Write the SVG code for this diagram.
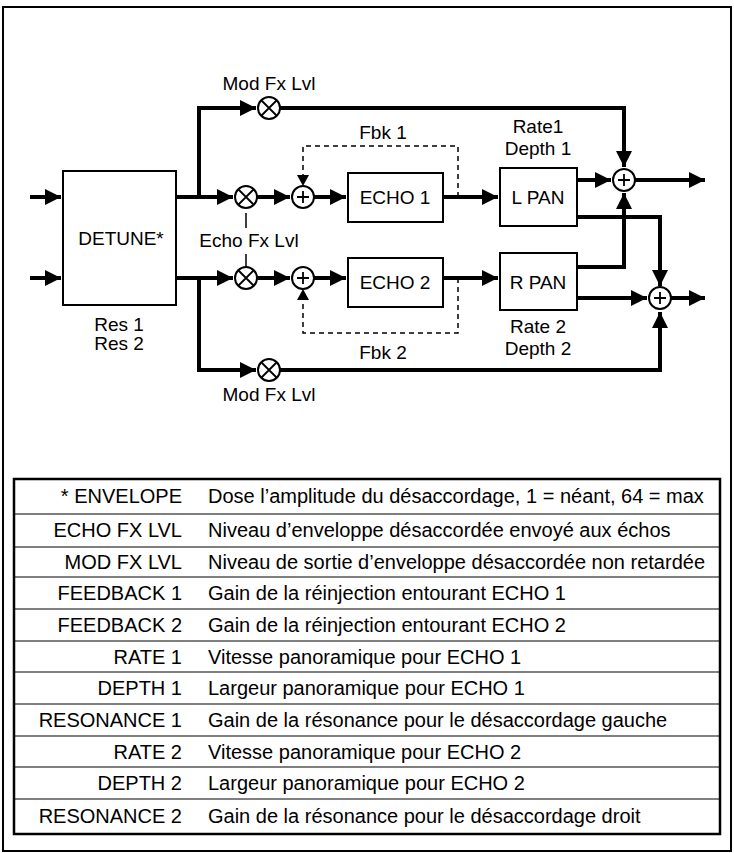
<svg xmlns="http://www.w3.org/2000/svg" width="734" height="853" viewBox="0 0 734 853">
<style>
text{font-family:"Liberation Sans",Arial,sans-serif;font-size:19px;fill:#000}
#table text{font-size:20px}
.c{text-anchor:middle}.r{text-anchor:end}
.w{fill:none;stroke:#000;stroke-width:4}
.b{fill:#fff;stroke:#000;stroke-width:2}
.d{fill:none;stroke:#000;stroke-width:1.5;stroke-dasharray:5,4}
.t{stroke:#000;stroke-width:1.5}
.o{fill:#fff;stroke:#000;stroke-width:2}
.x{stroke:#000;stroke-width:1.8}
</style>
<defs>
<marker id="a" markerWidth="4" markerHeight="4" refX="4" refY="2" orient="auto" markerUnits="strokeWidth"><path d="M0,0L4,2L0,4z" fill="#000"/></marker>
</defs>
<rect x="3" y="7" width="728" height="844" fill="#fff" stroke="#000" stroke-width="2"/>
<g id="connectors">
<path class="w" d="M30,197H61" marker-end="url(#a)"/>
<path class="w" d="M30,278H61" marker-end="url(#a)"/>
<path class="w" d="M176,197H233" marker-end="url(#a)"/>
<path class="w" d="M176,278H233" marker-end="url(#a)"/>
<path class="w" d="M199,197V108H256" marker-end="url(#a)"/>
<path class="w" d="M199,278V370H256" marker-end="url(#a)"/>
<path class="w" d="M257,197H290" marker-end="url(#a)"/>
<path class="w" d="M257,278H290" marker-end="url(#a)"/>
<path class="w" d="M314,197H346" marker-end="url(#a)"/>
<path class="w" d="M314,278H346" marker-end="url(#a)"/>
<path class="w" d="M443,197H498" marker-end="url(#a)"/>
<path class="w" d="M443,278H498" marker-end="url(#a)"/>
<path class="d" d="M458,197V146H303V180"/>
<path d="M303,186l-6,-11h12z" fill="#000"/>
<path class="d" d="M458,278V333H303V299"/>
<path d="M303,289l-6,11h12z" fill="#000"/>
<path class="w" d="M280,108H624V167" marker-end="url(#a)"/>
<path class="w" d="M577,180H611" marker-end="url(#a)"/>
<path class="w" d="M577,267H624V193" marker-end="url(#a)"/>
<path class="w" d="M577,217H660V286" marker-end="url(#a)"/>
<path class="w" d="M577,298H647" marker-end="url(#a)"/>
<path class="w" d="M280,370H660V312" marker-end="url(#a)"/>
<path class="w" d="M635,180H705" marker-end="url(#a)"/>
<path class="w" d="M671,298H705" marker-end="url(#a)"/>
<path class="t" d="M246,213V228M246,254V268"/>
</g>
<g id="detune"><rect class="b" x="63" y="171" width="113" height="134"/><text class="c" x="121" y="245">DETUNE*</text><text class="c" x="119" y="331">Res 1</text><text class="c" x="119" y="350">Res 2</text></g>
<g id="mult1"><circle class="o" cx="246" cy="197" r="11"/><path class="x" d="M238,189l16,16M254,189l-16,16"/></g>
<g id="mult2"><circle class="o" cx="246" cy="278" r="11"/><path class="x" d="M238,270l16,16M254,270l-16,16"/></g>
<g id="modmult1"><circle class="o" cx="269" cy="108" r="11"/><path class="x" d="M261,100l16,16M277,100l-16,16"/><text class="c" x="269" y="90">Mod Fx Lvl</text></g>
<g id="modmult2"><circle class="o" cx="269" cy="370" r="11"/><path class="x" d="M261,362l16,16M277,362l-16,16"/><text class="c" x="269" y="401">Mod Fx Lvl</text></g>
<g id="echofx"><text class="c" x="249" y="247">Echo Fx Lvl</text></g>
<g id="sum1"><circle class="o" cx="303" cy="197" r="11"/><path class="x" d="M297,197h12M303,191v12"/></g>
<g id="sum2"><circle class="o" cx="303" cy="278" r="11"/><path class="x" d="M297,278h12M303,272v12"/></g>
<g id="echo1"><rect class="b" x="348" y="173" width="95" height="49"/><text class="c" x="395" y="204">ECHO 1</text><text class="c" x="383" y="139">Fbk 1</text></g>
<g id="echo2"><rect class="b" x="348" y="258" width="95" height="49"/><text class="c" x="395" y="289">ECHO 2</text><text class="c" x="383" y="359">Fbk 2</text></g>
<g id="lpan"><rect class="b" x="500" y="168" width="77" height="58"/><text class="c" x="538" y="204">L PAN</text><text class="c" x="538" y="133">Rate1</text><text class="c" x="538" y="155">Depth 1</text></g>
<g id="rpan"><rect class="b" x="500" y="253" width="77" height="57"/><text class="c" x="538" y="289">R PAN</text><text class="c" x="538" y="333">Rate 2</text><text class="c" x="538" y="355">Depth 2</text></g>
<g id="osum1"><circle class="o" cx="624" cy="180" r="11"/><path class="x" d="M618,180h12M624,174v12"/></g>
<g id="osum2"><circle class="o" cx="660" cy="298" r="11"/><path class="x" d="M654,298h12M660,292v12"/></g>
<g id="table">
<rect x="14" y="479" width="706" height="355" fill="none" stroke="#000" stroke-width="2.5"/>
<path stroke="#000" stroke-width="1.2" d="M14,514H720M14,547H720M14,577H720M14,609H720M14,641H720M14,672H720M14,704H720M14,736H720M14,767H720M14,799H720"/>
<text class="r" x="182" y="503">* ENVELOPE</text><text class="r" x="182" y="537">ECHO FX LVL</text><text class="r" x="182" y="569">MOD FX LVL</text><text class="r" x="182" y="600">FEEDBACK 1</text><text class="r" x="182" y="632">FEEDBACK 2</text><text class="r" x="182" y="664">RATE 1</text><text class="r" x="182" y="695">DEPTH 1</text><text class="r" x="182" y="727">RESONANCE 1</text><text class="r" x="182" y="759">RATE 2</text><text class="r" x="182" y="790">DEPTH 2</text><text class="r" x="182" y="823">RESONANCE 2</text>
<text x="208" y="503">Dose l’amplitude du désaccordage, 1 = néant, 64 = max</text>
<text x="208" y="537">Niveau d’enveloppe désaccordée envoyé aux échos</text>
<text x="208" y="569">Niveau de sortie d’enveloppe désaccordée non retardée</text>
<text x="208" y="600">Gain de la réinjection entourant ECHO 1</text>
<text x="208" y="632">Gain de la réinjection entourant ECHO 2</text>
<text x="208" y="664">Vitesse panoramique pour ECHO 1</text>
<text x="208" y="695">Largeur panoramique pour ECHO 1</text>
<text x="208" y="727">Gain de la résonance pour le désaccordage gauche</text>
<text x="208" y="759">Vitesse panoramique pour ECHO 2</text>
<text x="208" y="790">Largeur panoramique pour ECHO 2</text>
<text x="208" y="823">Gain de la résonance pour le désaccordage droit</text>
</g>
</svg>
